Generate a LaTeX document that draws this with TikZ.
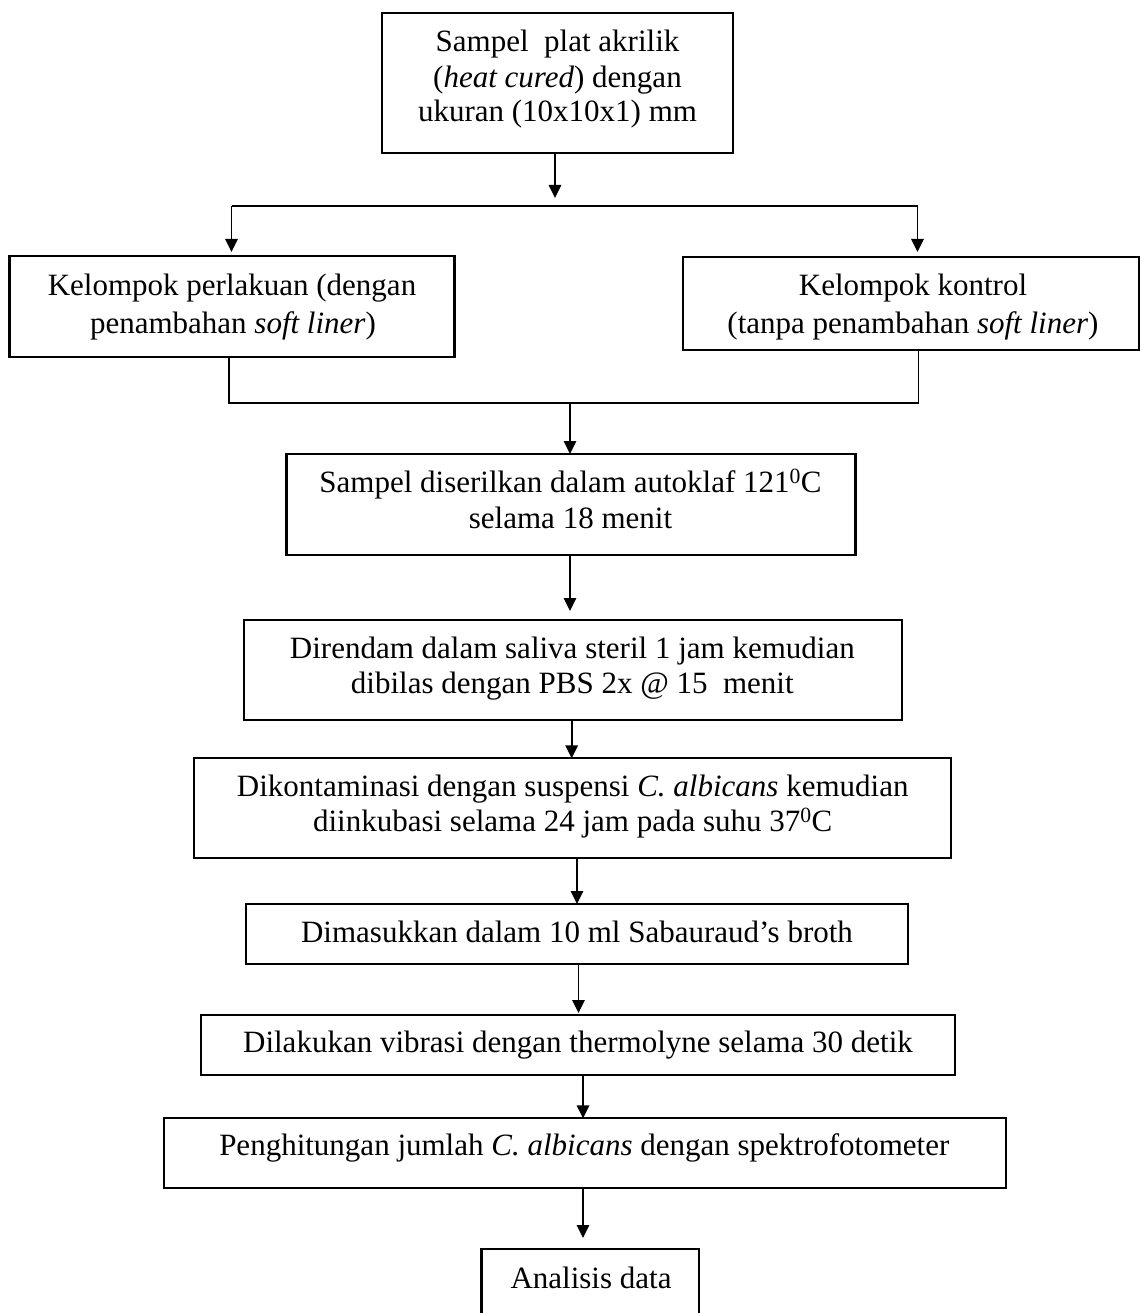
\documentclass[tikz,border=0pt]{standalone}
\usepackage{fontspec}
\setmainfont{Liberation Serif}
\usetikzlibrary{arrows.meta}
\begin{document}
\begin{tikzpicture}[x=1pt,y=-1pt,
  box/.style={draw, line width=2.3pt, inner sep=0pt, outer sep=0pt},
  txt/.style={anchor=base, inner sep=0pt, outer sep=0pt, font=\fontsize{31}{37}\selectfont},
  arr/.style={line width=1.7pt, -{Triangle[length=13pt,width=12.5pt]}},
  ln/.style={line width=1.7pt}]
\useasboundingbox (0,0) rectangle (1141,1313);
\clip (0,0) rectangle (1141,1313);
\fill[white] (0,0) rectangle (1141,1313);

% boxes
\node[box, minimum width=351pt, minimum height=140pt] (b1) at (557.5,83) {};
\node[box, minimum width=445pt, minimum height=101pt] (b2) at (232,306.5) {};
\node[box, minimum width=456pt, minimum height=93pt] (b3) at (911,303.5) {};
\node[box, minimum width=569pt, minimum height=101pt] (b4) at (571,504.5) {};
\node[box, minimum width=658pt, minimum height=100pt] (b5) at (573,670) {};
\node[box, minimum width=756.5pt, minimum height=100pt] (b6) at (572.5,808.3) {};
\node[box, minimum width=662pt, minimum height=60pt] (b7) at (577,934) {};
\node[box, minimum width=754pt, minimum height=60pt] (b8) at (578,1045) {};
\node[box, minimum width=842pt, minimum height=70pt] (b9) at (584.7,1153.3) {};
\node[box, minimum width=217.6pt, minimum height=82pt] (b10) at (590.4,1290) {};

% texts
\node[txt] (t1a) at (557.5,52) {Sampel\ \ plat akrilik};
\node[txt] (t1b) at (557.5,87.3) {(\textit{heat cured}) dengan};
\node[txt] (t1c) at (557.5,121.7) {ukuran (10x10x1) mm};
\node[txt] (t2a) at (232,296) {Kelompok perlakuan (dengan};
\node[txt] (t2b) at (233,333) {penambahan \textit{soft liner})};
\node[txt] (t3a) at (913,296) {Kelompok kontrol};
\node[txt] (t3b) at (913,333) {(tanpa penambahan \textit{soft liner})};
\node[txt] (t4a) at (570.5,492.7) {Sampel diserilkan dalam autoklaf 121\textsuperscript{0}C};
\node[txt] (t4b) at (570.5,528) {selama 18 menit};
\node[txt] (t5a) at (572.3,658) {Direndam dalam saliva steril 1 jam kemudian};
\node[txt] (t5b) at (572.3,693) {dibilas dengan PBS 2x @ 15\ \ menit};
\node[txt] (t6a) at (572.7,796.7) {Dikontaminasi dengan suspensi \textit{C. albicans} kemudian};
\node[txt] (t6b) at (572.7,831.7) {diinkubasi selama 24 jam pada suhu 37\textsuperscript{0}C};
\node[txt] (t7) at (577,942.7) {Dimasukkan dalam 10 ml Sabauraud’s broth};
\node[txt] (t8) at (578,1052.7) {Dilakukan vibrasi dengan thermolyne selama 30 detik};
\node[txt] (t9) at (584.3,1155.7) {Penghitungan jumlah \textit{C. albicans} dengan spektrofotometer};
\node[txt] (t10) at (591,1288) {Analisis data};

% junction coordinates
\coordinate (jm) at (555,206);
\coordinate (jl) at (231.5,206);
\coordinate (jr) at (917.5,206);
\coordinate (ml) at (229,403.3);
\coordinate (mr) at (918.6,403.3);
\coordinate (mm) at (570,403.3);
\coordinate (x2) at (570,0);
\coordinate (x3) at (571.7,0);
\coordinate (x4) at (577,0);
\coordinate (x5) at (578.5,0);
\coordinate (x6) at (583,0);
\coordinate (x7) at (583,0);

% split
\draw[arr, shorten >=8pt] (b1.south -| jm) -- (jm);
\draw[ln] (jl) -- (jr);
\draw[arr, shorten >=4pt] (jl) -- (b2.north -| jl);
\draw[arr, shorten >=5pt] (jr) -- (b3.north -| jr);

% merge
\draw[ln] (b2.south -| ml) -- (ml) -- (mr) -- (b3.south -| mr);
\draw[arr] (mm) -- (b4.north -| mm);

% main chain
\draw[arr, shorten >=9pt] (b4.south -| x2) -- (b5.north -| x2);
\draw[arr] (b5.south -| x3) -- (b6.north -| x3);
\draw[arr] (b6.south -| x4) -- (b7.north -| x4);
\draw[arr, shorten >=2pt] (b7.south -| x5) -- (b8.north -| x5);
\draw[arr] (b8.south -| x6) -- (b9.north -| x6);
\draw[arr, shorten >=11pt] (b9.south -| x7) -- (b10.north -| x7);
\end{tikzpicture}
\end{document}
